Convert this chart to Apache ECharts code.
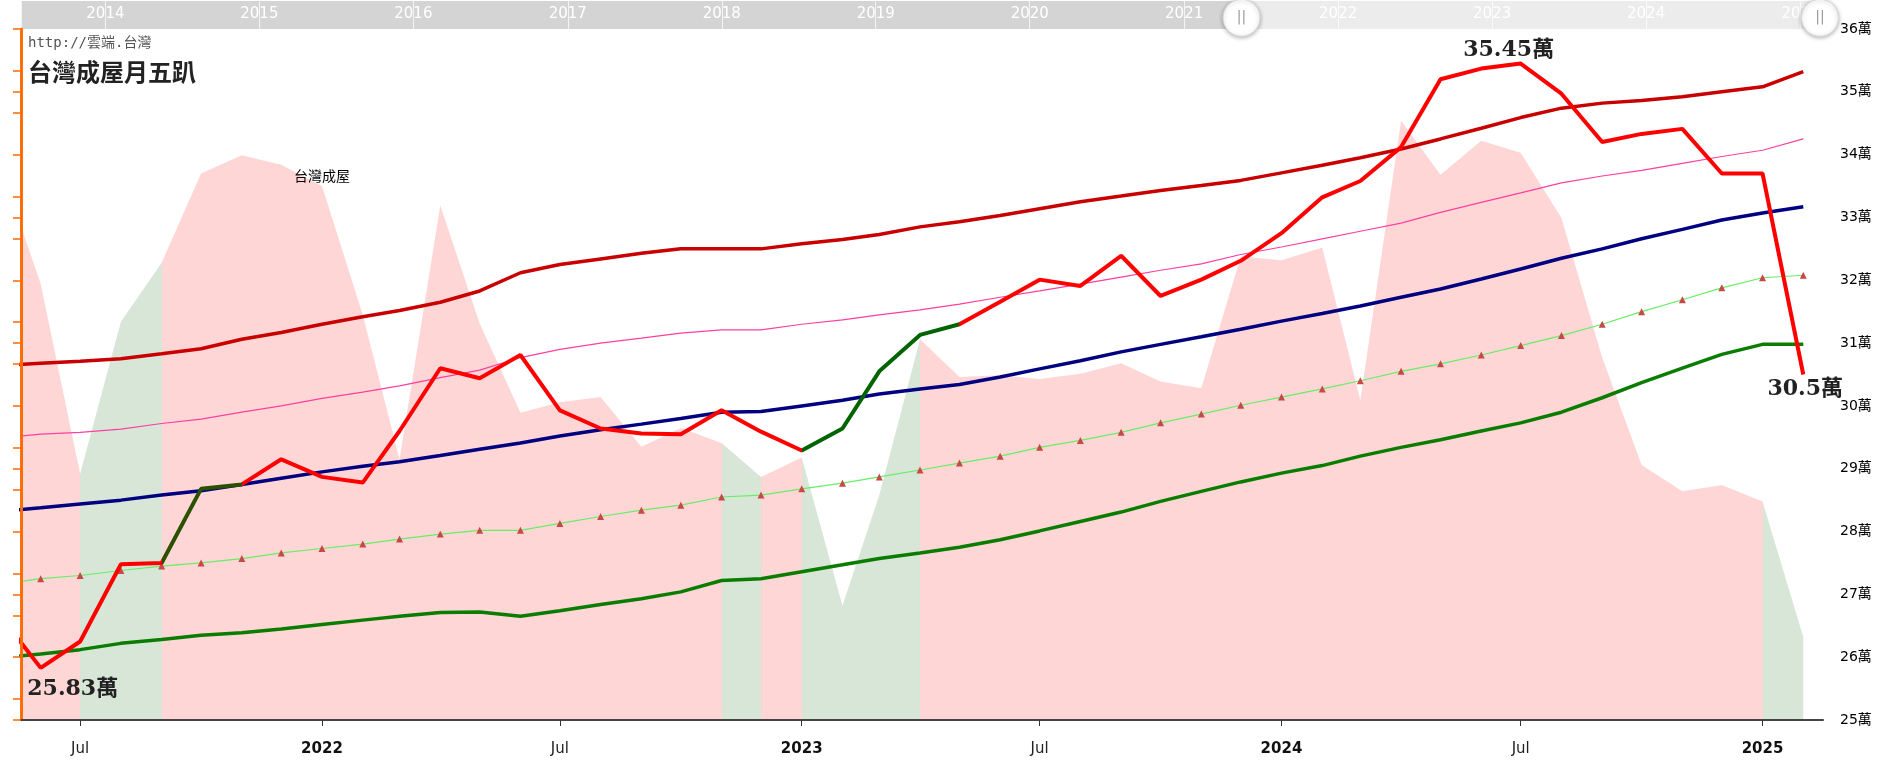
<!DOCTYPE html>
<html><head><meta charset="utf-8">
<script src="https://cdn.jsdelivr.net/npm/echarts@6/dist/echarts.min.js"></script>
<style>html,body{margin:0;padding:0;background:#fff}#c{width:1898px;height:769px}</style>
</head><body><div id="c"></div>
<script>
// ---------- DATA ----------
const months = [
  '2021-05-01','2021-06-01','2021-07-01','2021-08-01','2021-09-01','2021-10-01','2021-11-01','2021-12-01',
  '2022-01-01','2022-02-01','2022-03-01','2022-04-01','2022-05-01','2022-06-01','2022-07-01','2022-08-01','2022-09-01','2022-10-01','2022-11-01','2022-12-01',
  '2023-01-01','2023-02-01','2023-03-01','2023-04-01','2023-05-01','2023-06-01','2023-07-01','2023-08-01','2023-09-01','2023-10-01','2023-11-01','2023-12-01',
  '2024-01-01','2024-02-01','2024-03-01','2024-04-01','2024-05-01','2024-06-01','2024-07-01','2024-08-01','2024-09-01','2024-10-01','2024-11-01','2024-12-01',
  '2025-01-01','2025-02-01'
];
const price = [
  26.66, 25.83, 26.25, 27.48, 27.50, 28.68, 28.75, 29.15,
  28.87, 28.78, 29.60, 30.60, 30.44, 30.81, 29.93, 29.64, 29.56, 29.55, 29.93, 29.59,
  29.29, 29.64, 30.55, 31.13, 31.30, 31.66, 32.01, 31.91, 32.39, 31.75, 32.01, 32.31,
  32.75, 33.32, 33.58, 34.12, 35.20, 35.37, 35.45, 34.97, 34.20, 34.33, 34.41, 33.70,
  33.70, 30.50
];
const upperBand = [
  30.64, 30.68, 30.71, 30.75, 30.83, 30.91, 31.06, 31.17,
  31.30, 31.42, 31.52, 31.65, 31.83, 32.12, 32.25, 32.34, 32.43, 32.50, 32.50, 32.50,
  32.58, 32.65, 32.73, 32.85, 32.93, 33.03, 33.14, 33.25, 33.34, 33.43, 33.51, 33.59,
  33.71, 33.83, 33.95, 34.09, 34.25, 34.42, 34.59, 34.74, 34.82, 34.86, 34.92, 35.00,
  35.08, 35.32
];
const upperInner = [
  29.49, 29.55, 29.58, 29.63, 29.72, 29.79, 29.90, 30.00,
  30.12, 30.22, 30.32, 30.45, 30.57, 30.77, 30.90, 31.00, 31.08, 31.16, 31.21, 31.21,
  31.30, 31.37, 31.45, 31.53, 31.62, 31.73, 31.83, 31.94, 32.05, 32.16, 32.26, 32.41,
  32.53, 32.66, 32.78, 32.91, 33.08, 33.24, 33.39, 33.55, 33.66, 33.75, 33.86, 33.97,
  34.07, 34.25
];
const midLine = [
  28.32, 28.38, 28.44, 28.50, 28.58, 28.65, 28.75, 28.85,
  28.95, 29.04, 29.11, 29.21, 29.31, 29.41, 29.52, 29.62, 29.71, 29.80, 29.90, 29.91,
  30.00, 30.09, 30.19, 30.27, 30.34, 30.46, 30.59, 30.72, 30.86, 30.98, 31.10, 31.22,
  31.35, 31.47, 31.59, 31.73, 31.86, 32.02, 32.18, 32.35, 32.50, 32.66, 32.81, 32.96,
  33.07, 33.17
];
const lowerInner = [
  27.16, 27.25, 27.30, 27.38, 27.45, 27.50, 27.57, 27.66,
  27.73, 27.80, 27.88, 27.96, 28.02, 28.02, 28.13, 28.24, 28.34, 28.42, 28.55, 28.58,
  28.68, 28.77, 28.87, 28.98, 29.09, 29.20, 29.34, 29.45, 29.58, 29.73, 29.87, 30.01,
  30.14, 30.27, 30.40, 30.55, 30.67, 30.81, 30.96, 31.12, 31.30, 31.50, 31.69, 31.88,
  32.04, 32.08
];
const lowerBand = [
  25.99, 26.05, 26.12, 26.22, 26.28, 26.35, 26.39, 26.45,
  26.52, 26.59, 26.65, 26.71, 26.72, 26.65, 26.74, 26.84, 26.93, 27.04, 27.22, 27.25,
  27.36, 27.47, 27.57, 27.66, 27.75, 27.87, 28.01, 28.16, 28.31, 28.48, 28.64, 28.79,
  28.93, 29.05, 29.20, 29.34, 29.46, 29.60, 29.73, 29.90, 30.13, 30.37, 30.60, 30.82,
  30.98, 30.98
];
const areaValues = [
  33.84, 31.94, 28.92, 31.34, 32.28, 33.70, 33.99, 33.84,
  33.50, 31.45, 29.15, 33.19, 31.31, 29.89, 30.06, 30.14, 29.35, 29.65, 29.41, 28.87,
  29.18, 26.82, 28.58, 31.06, 30.46, 30.49, 30.43, 30.51, 30.68, 30.39, 30.28, 32.38,
  32.32, 32.52, 30.09, 34.54, 33.68, 34.22, 34.03, 32.99, 30.77, 29.06, 28.64, 28.74,
  28.48, 26.32
];
const areaGreenRanges = [
  ['2021-07-01','2021-09-01'], ['2022-11-01','2022-12-01'], ['2023-01-01','2023-04-01'], ['2025-01-01','2025-02-01']
];
const priceGreenRanges = [
  ['2021-09-01','2021-11-01','#2b5000'], ['2023-01-01','2023-05-01','#006400']
];
const xTicks = ['2021-07-01','2022-01-01','2022-07-01','2023-01-01','2023-07-01','2024-01-01','2024-07-01','2025-01-01'];
const areaName = '台灣成屋';
const areaLabelMonth = '2022-01-01';
const yMin = 25, yMax = 36, yStep = 1;
const viewStart = '2021-05-17', viewEnd = '2025-02-16';
const overviewStart = '2013-06-15', overviewEnd = '2025-02-28';
const titleUrl = 'http://雲端.台灣';
const titleMain = '台灣成屋月五趴';
const unit = '萬';
const monthNames = ['Jan','Feb','Mar','Apr','May','Jun','Jul','Aug','Sep','Oct','Nov','Dec'];

// ---------- BUILD ----------
const DAY = 86400000;
function ts(s) { const p = s.split('-').map(Number); return new Date(p[0], p[1] - 1, p[2]).getTime(); }
function pairs(arr) { return months.map((m, i) => [ts(m), arr[i]]); }
const tickLine = { show: true, onZero: false, lineStyle: { color: '#ff6a00', width: 2.5 } };
const tickMark = { show: true, length: 8, inside: false, lineStyle: { color: '#ff6a00', width: 1.5 } };
const lastIdx = months.length - 1;
const labelIdx = months.indexOf(areaLabelMonth);
const xTickValues = xTicks.map(ts);

const chart = echarts.init(document.getElementById('c'), null, { renderer: 'canvas' });
chart.setOption({
  animation: false,
  backgroundColor: '#fff',
  title: [
    { text: titleUrl, left: 28, top: 36, padding: 0, textStyle: { fontSize: 14, color: '#555', fontWeight: 'normal', fontFamily: 'DejaVu Sans Mono, Noto Sans CJK TC' } },
    { text: titleMain, left: 28, top: 60, padding: 0, textStyle: { fontSize: 24, color: '#222', fontWeight: 'bold', fontFamily: 'Noto Sans CJK TC' } }
  ],
  grid: [
    { left: 21, right: 75, top: 29, bottom: 49 },
    { left: 21, right: 73, top: 1, height: 28, show: true, backgroundColor: '#d4d4d4', borderWidth: 0 }
  ],
  xAxis: [
    {
      type: 'time', gridIndex: 0, position: 'bottom', min: ts(viewStart), max: ts(viewEnd), z: 10,
      axisLine: { onZero: false, lineStyle: { color: '#444', width: 2 } },
      axisTick: { show: false }, axisLabel: { show: false }, splitLine: { show: false }
    },
    {
      type: 'time', gridIndex: 1, min: ts(overviewStart), max: ts(overviewEnd),
      splitNumber: 12, minInterval: 364 * DAY, maxInterval: 366 * DAY,
      axisLine: { show: false, onZero: false }, axisTick: { show: false },
      splitLine: { show: true, lineStyle: { color: 'rgba(255,255,255,0.75)', width: 1 } },
      axisLabel: {
        inside: true, margin: 7, fontSize: 15, color: '#fff', fontFamily: 'DejaVu Sans',
        showMinLabel: false, showMaxLabel: false,
        formatter: function (v) { return String(new Date(v).getFullYear()); }
      }
    },
    {
      type: 'value', gridIndex: 0, position: 'bottom', min: ts(viewStart), max: ts(viewEnd), scale: true, z: 10,
      axisLine: { show: false, onZero: false },
      axisTick: { show: true, length: 6, customValues: xTickValues, lineStyle: { color: '#333', width: 1 } },
      splitLine: { show: false },
      axisLabel: {
        margin: 22, fontSize: 15, color: '#222', fontFamily: 'DejaVu Sans',
        customValues: xTickValues,
        formatter: function (v) {
          const d = new Date(v);
          return d.getMonth() === 0 ? '{y|' + d.getFullYear() + '}' : '{m|' + monthNames[d.getMonth()] + '}';
        },
        rich: {
          y: { fontWeight: 'bold', fontSize: 15, color: '#111', fontFamily: 'DejaVu Sans' },
          m: { fontSize: 15, color: '#222', fontFamily: 'DejaVu Sans' }
        }
      }
    }
  ],
  yAxis: [
    {
      type: 'value', gridIndex: 0, position: 'right', min: yMin, max: yMax, interval: yStep,
      axisLine: { show: false }, axisTick: { show: false }, splitLine: { show: false },
      axisLabel: { margin: 17, fontSize: 14, color: '#000', fontFamily: 'DejaVu Sans, Noto Sans CJK TC', formatter: '{value}' + unit }
    },
    {
      type: 'value', gridIndex: 0, position: 'left', min: yMin, max: yMax, interval: yStep, z: 10,
      axisLine: tickLine, axisTick: tickMark, axisLabel: { show: false }, splitLine: { show: false }
    },
    {
      type: 'value', gridIndex: 0, position: 'left', inverse: true, min: 0, max: 16.5, interval: 1, z: 10,
      axisLine: tickLine, axisTick: tickMark, axisLabel: { show: false }, splitLine: { show: false }
    },
    { type: 'value', gridIndex: 1, min: 0, max: 1, show: false }
  ],
  visualMap: [
    {
      type: 'piecewise', show: false, seriesIndex: 0, dimension: 0,
      pieces: areaGreenRanges.map(r => ({ gte: ts(r[0]), lte: ts(r[1]), color: '#d8e6d8' })),
      outOfRange: { color: '#ffd6d6' }
    },
    {
      type: 'piecewise', show: false, seriesIndex: 6, dimension: 0,
      pieces: priceGreenRanges.map(r => ({ gte: ts(r[0]), lte: ts(r[1]), color: r[2] })),
      outOfRange: { color: '#ff0000' }
    }
  ],
  series: [
    {
      name: areaName, type: 'line', xAxisIndex: 0, yAxisIndex: 0, data: pairs(areaValues),
      symbol: 'none', lineStyle: { width: 0 }, areaStyle: { opacity: 1 }, z: 1, silent: true,
      markPoint: {
        symbol: 'circle', symbolSize: 1, itemStyle: { color: 'rgba(0,0,0,0)' }, silent: true,
        label: { show: true, position: 'top', distance: 3, color: '#000', fontSize: 14, fontFamily: 'Noto Sans CJK TC', formatter: () => areaName },
        data: [{ coord: [ts(areaLabelMonth), areaValues[labelIdx]] }]
      }
    },
    { name: 'upperInner', type: 'line', data: pairs(upperInner), symbol: 'none', lineStyle: { color: '#ff3fa0', width: 1.2 }, z: 3, silent: true },
    {
      name: 'lowerInner', type: 'line', data: pairs(lowerInner), symbol: 'triangle', symbolSize: 7, showSymbol: true,
      itemStyle: { color: '#c84848' }, lineStyle: { color: '#66ee66', width: 1.2 }, z: 3, silent: true
    },
    { name: 'mid', type: 'line', data: pairs(midLine), symbol: 'none', lineStyle: { color: '#000080', width: 3.5 }, z: 4, silent: true },
    { name: 'upper', type: 'line', data: pairs(upperBand), symbol: 'none', lineStyle: { color: '#c80000', width: 3.5 }, z: 4, silent: true },
    { name: 'lower', type: 'line', data: pairs(lowerBand), symbol: 'none', lineStyle: { color: '#0a7d00', width: 3.5 }, z: 4, silent: true },
    {
      name: 'price', type: 'line', data: pairs(price), symbol: 'none', lineStyle: { width: 4 }, z: 6, silent: true,
      markPoint: {
        symbol: 'circle', symbolSize: 1, itemStyle: { color: 'rgba(0,0,0,0)' }, silent: true,
        label: { show: true, position: 'inside', color: '#222', fontSize: 22, fontWeight: 'bold', fontFamily: 'DejaVu Serif, Noto Sans CJK TC', formatter: p => p.value + unit },
        data: [
          { type: 'min', label: { offset: [32, 21] } },
          { type: 'max', label: { offset: [-12, -13] } },
          { coord: [ts(months[lastIdx]), price[lastIdx]], value: price[lastIdx], label: { offset: [2, 15] } }
        ]
      }
    },
    {
      name: 'overview', type: 'line', xAxisIndex: 1, yAxisIndex: 3, data: [[ts(overviewStart), null]], symbol: 'none', silent: true, z: 5,
      markArea: { silent: true, itemStyle: { color: 'rgba(255,255,255,0.55)' }, data: [[{ xAxis: ts(viewStart) }, { xAxis: ts(viewEnd) }]] },
      markPoint: {
        symbol: 'circle', symbolSize: 37, silent: true,
        itemStyle: { color: '#fff', borderColor: '#d8d8d8', borderWidth: 1, shadowBlur: 4, shadowColor: 'rgba(0,0,0,0.3)', shadowOffsetY: 1 },
        label: { show: true, position: 'inside', formatter: '||', color: '#999', fontSize: 14, fontFamily: 'DejaVu Sans' },
        data: [{ coord: [ts(viewStart), 0.4] }, { coord: [ts(viewEnd), 0.4] }]
      }
    }
  ]
});
</script>
</body></html>
